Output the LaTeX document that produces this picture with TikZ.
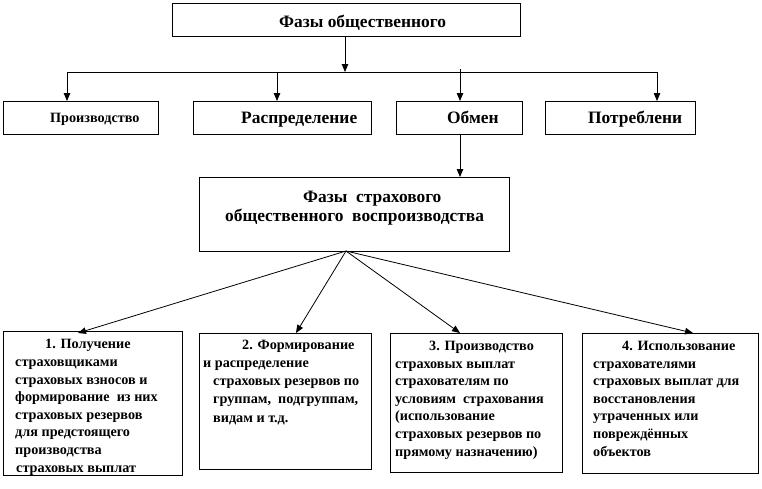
\documentclass[tikz,border=0pt]{standalone}
\usepackage{fontspec}
\setmainfont{Liberation Serif}
\usetikzlibrary{arrows.meta}
\tikzset{
  box/.style={draw, line width=0.8pt, anchor=north west, inner sep=0pt},
  lbl/.style={anchor=base west, inner sep=0pt, font=\fontsize{17.4}{20}\selectfont\bfseries},
  para/.style={anchor=base west, inner sep=0pt, align=left, font=\fontsize{14.2}{17.6}\selectfont\bfseries},
  arr/.style={line width=0.8pt, -{Triangle[length=8pt,width=6.5pt]}},
  ln/.style={line width=0.8pt}
}
\begin{document}
\begin{tikzpicture}[x=1pt,y=-1pt]
\useasboundingbox (0,0) rectangle (762,488);
% top
\node[box, minimum width=348pt, minimum height=33pt] (top) at (172,3) {};
\node[lbl] (topt) at (279,27) {Фазы общественного};
% second row
\node[box, minimum width=155pt, minimum height=33pt] (p1) at (3,101) {};
\node[box, minimum width=178pt, minimum height=33pt] (p2) at (193,101) {};
\node[box, minimum width=126pt, minimum height=33pt] (p3) at (396,101) {};
\node[box, minimum width=150pt, minimum height=33pt] (p4) at (545,101) {};
\node[lbl, font=\fontsize{14.2}{16}\selectfont\bfseries] (p1t) at (50,122) {Производство};
\node[lbl] (p2t) at (241,123) {Распределение};
\node[lbl] (p3t) at (447,123) {Обмен};
\node[lbl] (p4t) at (588,123) {Потреблени};
\coordinate (tb) at (345,36);
\coordinate (j1) at (67,72);
\coordinate (j2) at (277,72);
\coordinate (j3) at (460,69);
\coordinate (j4) at (657,72);
\draw[ln] (j1) -- (j4);
\draw[arr] (tb) -- (tb |- j1);
\draw[arr] (j1) -- (j1 |- p1.north);
\draw[arr] (j2) -- (j2 |- p2.north);
\draw[arr] (j3) -- (j3 |- p3.north);
\draw[arr] (j4) -- (j4 |- p4.north);
% middle
\node[box, minimum width=310pt, minimum height=74pt] (mid) at (199,177) {};
\node[anchor=base west, inner sep=0pt, align=left, font=\fontsize{17.4}{19}\selectfont\bfseries] (midt) at (225,221) {\hspace*{78pt}Фазы\ \ страхового\\общественного\ \ воспроизводства};
\draw[arr] (p3.south -| j3) -- (j3 |- mid.north);
% bottom boxes
\node[box, minimum width=179pt, minimum height=144pt] (b1) at (3,331) {};
\node[box, minimum width=172pt, minimum height=136pt] (b2) at (199,333) {};
\node[box, minimum width=172pt, minimum height=139pt] (b3) at (390,333) {};
\node[box, minimum width=176pt, minimum height=140pt] (b4) at (582,333) {};
\coordinate (fan) at (346,251);
\coordinate (t1) at (78,333);
\coordinate (t2) at (296,333);
\coordinate (t3) at (460,333);
\coordinate (t4) at (693,333);
\draw[arr] (fan) -- (t1);
\draw[arr] (fan) -- (t2);
\draw[arr] (fan) -- (t3);
\draw[arr] (fan) -- (t4);
\node[para] (b1t) at (15,472) {\hspace*{30pt}1. Получение\\страховщиками\\страховых взносов и\\формирование\ \ из них\\страховых резервов\\для предстоящего\\производства\\\hspace*{1pt}страховых выплат};
\node[para, font=\fontsize{14.2}{18.2}\selectfont\bfseries] (b2t) at (203,422) {\hspace*{39pt}2. Формирование\\и распределение\\\hspace*{10pt}страховых резервов по\\\hspace*{10pt}группам,\ \ подгруппам,\\\hspace*{10pt}видам и т.д.};
\node[para] (b3t) at (395,456) {\hspace*{34pt}3. Производство\\страховых выплат\\страхователям по\\условиям\ \ страхования\\(использование\\страховых резервов по\\прямому назначению)};
\node[para] (b4t) at (593,456) {\hspace*{29pt}4. Использование\\страхователями\\страховых выплат для\\восстановления\\утраченных или\\повреждённых\\объектов};
\end{tikzpicture}
\end{document}
